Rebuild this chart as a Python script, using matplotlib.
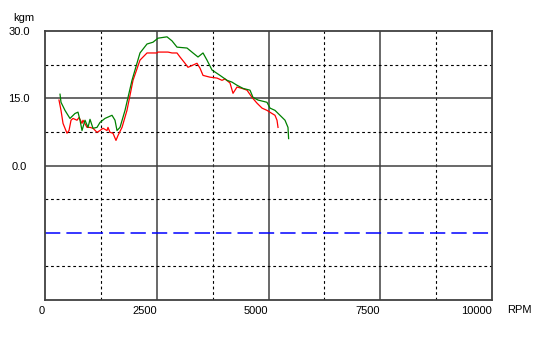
import numpy as np
import matplotlib
matplotlib.use('Agg')
import matplotlib.pyplot as plt

plt.rcParams['font.family'] = ['Liberation Sans', 'DejaVu Sans']

# green curve (rpm, kgm)
green_rpm = [336, 358, 447, 515, 559, 671, 738, 783, 828, 895, 962, 1007, 1074, 1163, 1230,
             1342, 1499, 1566, 1611, 1678, 1790, 1946, 2125, 2282, 2416, 2528, 2729, 2841,
             2953, 3177, 3311, 3423, 3535, 3624, 3736, 3915, 4072, 4183, 4295, 4430, 4586,
             4653, 4765, 4966, 5034, 5145, 5257, 5369, 5436, 5450]
green_kgm = [15.9, 14.1, 12.3, 11.2, 10.5, 11.6, 11.9, 10.1, 7.8, 10.1, 8.5, 10.3, 8.3, 8.5, 9.6,
             10.5, 11.2, 10.1, 7.8, 8.5, 12.3, 19.0, 25.1, 27.1, 27.5, 28.4, 28.7, 27.8,
             26.4, 26.2, 25.1, 24.2, 25.1, 23.5, 21.3, 20.1, 19.0, 18.6, 17.9, 17.2, 16.8,
             15.2, 14.6, 14.1, 12.8, 12.3, 11.2, 10.1, 8.5, 6.0]

# red curve (rpm, kgm)
red_rpm = [313, 358, 403, 492, 537, 582, 626, 716, 761, 828, 850, 940, 1007, 1074, 1163, 1230,
           1298, 1387, 1409, 1454, 1521, 1588, 1633, 1723, 1834, 1969, 2125, 2282, 2506, 2528,
           2752, 2841, 2953, 3020, 3132, 3199, 3311, 3400, 3468, 3535, 3691, 3848, 3960, 4027,
           4139, 4206, 4295, 4407, 4519, 4631, 4743, 4855, 4966, 5078, 5145, 5190, 5213]
red_kgm = [14.6, 12.3, 9.4, 7.2, 7.8, 10.1, 10.5, 10.1, 10.7, 9.4, 10.1, 8.5, 8.5, 8.3, 7.4, 7.8,
           8.3, 7.8, 8.5, 7.4, 7.2, 5.6, 6.7, 8.5, 12.3, 19.0, 23.5, 25.1, 25.1, 25.3,
           25.3, 25.1, 25.1, 24.2, 22.8, 21.9, 22.4, 22.8, 21.7, 20.1, 19.7, 19.5, 19.0, 19.3,
           18.4, 16.1, 17.5, 17.2, 16.8, 15.2, 13.9, 12.8, 12.3, 11.6, 11.2, 10.1, 8.5]

ref_level = -15.0

x_ticks = [0, 2500, 5000, 7500, 10000]
x_minor = [1250, 3750, 6250, 8750]
y_ticks = [30, 15, 0]
y_ticklabels = ['30.0', '15.0', '0.0']
y_solid = [15, 0]
y_dotted = [22.5, 7.5, -7.5, -22.5]

fig = plt.figure(figsize=(5.4, 3.38), dpi=100)
ax = fig.add_axes([45 / 540, 1 - 300 / 338, 447 / 540, 269 / 338])
ax.set_xlim(0, 10000)
ax.set_ylim(-30, 30)

grid_col = '#404040'
for x in x_ticks[1:-1]:
    ax.axvline(x, color=grid_col, lw=1.1, zorder=1)
for x in x_minor:
    ax.axvline(x, color='black', lw=0.8, ls=(0, (2.5, 2.5)), zorder=1)
for y in y_solid:
    ax.axhline(y, color=grid_col, lw=1.1, zorder=1)
for y in y_dotted:
    ax.axhline(y, color='black', lw=0.8, ls=(0, (2.5, 2.5)), zorder=1)

ax.axhline(ref_level, color='#0000ff', lw=1.1, ls=(0, (10, 4)), zorder=2)

ax.plot(red_rpm, red_kgm, color='#ff0000', lw=0.9, zorder=3)
ax.plot(green_rpm, green_kgm, color='#008000', lw=0.9, zorder=4)

for s in ax.spines.values():
    s.set_color(grid_col)
    s.set_linewidth(1.3)

ax.set_xticks(x_ticks)
ax.set_xticklabels([str(v) for v in x_ticks], fontsize=8)
for lbl in ax.get_xticklabels():
    lbl.set_ha('right')
ax.tick_params(axis='x', length=0, pad=4)
ax.set_yticks(y_ticks)
ax.set_yticklabels(y_ticklabels, fontsize=8)
for lbl in ax.get_yticklabels():
    lbl.set_ha('center')
ax.tick_params(axis='y', length=0, pad=18.5)

fig.text(24 / 540, 1 - 18 / 338, 'kgm', fontsize=8, ha='center', va='center')
fig.text(519 / 540, 1 - 310 / 338, 'RPM', fontsize=8, ha='center', va='center')

fig.savefig('out.png', dpi=100)
